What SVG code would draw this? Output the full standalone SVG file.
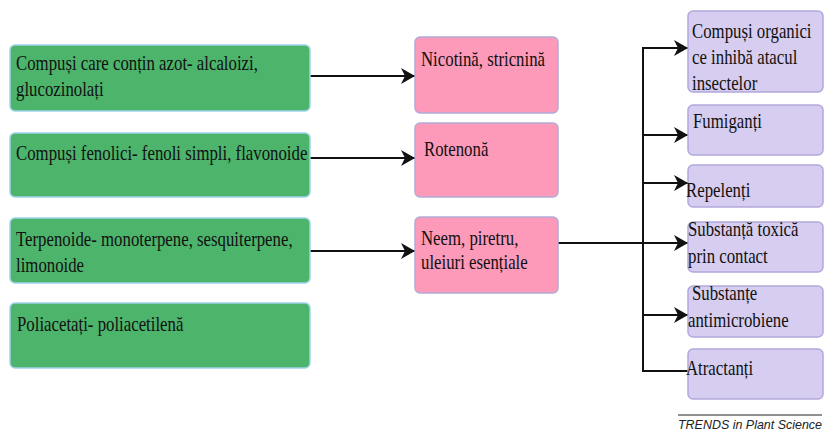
<svg xmlns="http://www.w3.org/2000/svg" width="827" height="437" viewBox="0 0 827 437">
<style>
.green{fill:#4db46c;stroke:#9fd3ea;stroke-width:1.5}
.pink{fill:#fd9ab9;stroke:#b3aad9;stroke-width:1.5}
.purple{fill:#d6cdf0;stroke:#b1a8dc;stroke-width:1.5}
.t{font-family:'Liberation Serif','DejaVu Serif',serif;font-size:20px;fill:#111}
.c{fill:none;stroke:#111;stroke-width:2}
.trends{font-family:'Liberation Sans',Arial,sans-serif;font-style:italic;font-size:13px;fill:#222}
</style>
<defs>
<marker id="arr" viewBox="0 0 14 16" markerWidth="14" markerHeight="16" refX="14" refY="8" orient="auto" markerUnits="userSpaceOnUse">
<path d="M0,0 L14,8 L0,16 L4,8 z" fill="#111"/>
</marker>
</defs>
<rect width="827" height="437" fill="#fff"/>

<g id="connectors">
<line class="c" x1="310" y1="76" x2="415" y2="76" marker-end="url(#arr)"/>
<line class="c" x1="309" y1="158" x2="415" y2="158" marker-end="url(#arr)"/>
<line class="c" x1="310" y1="251" x2="415" y2="251" marker-end="url(#arr)"/>
<line class="c" x1="558" y1="243" x2="688" y2="243" marker-end="url(#arr)"/>
<line class="c" x1="643" y1="47" x2="643" y2="372"/>
<line class="c" x1="642" y1="48" x2="688" y2="48" marker-end="url(#arr)"/>
<line class="c" x1="642" y1="135" x2="688" y2="135" marker-end="url(#arr)"/>
<line class="c" x1="642" y1="183" x2="688" y2="183" marker-end="url(#arr)"/>
<line class="c" x1="642" y1="315" x2="688" y2="315" marker-end="url(#arr)"/>
<line class="c" x1="642" y1="371" x2="688" y2="371"/>
</g>

<g id="g1">
<rect class="green" x="10" y="45" width="300" height="66" rx="5"/>
<g transform="translate(16,0) scale(0.84,1)"><text class="t" x="0" y="70">Compuși care conțin azot- alcaloizi,</text><text class="t" x="0" y="96">glucozinolați</text></g>
</g>
<g id="g2">
<rect class="green" x="10" y="133" width="300" height="64" rx="5"/>
<g transform="translate(16,0) scale(0.84,1)"><text class="t" x="0" y="160">Compuși fenolici- fenoli simpli, flavonoide</text></g>
</g>
<g id="g3">
<rect class="green" x="10" y="218" width="300" height="65" rx="5"/>
<g transform="translate(16,0) scale(0.84,1)"><text class="t" x="0" y="246">Terpenoide- monoterpene, sesquiterpene,</text><text class="t" x="0" y="272">limonoide</text></g>
</g>
<g id="g4">
<rect class="green" x="10" y="303" width="300" height="65" rx="5"/>
<g transform="translate(17,0) scale(0.84,1)"><text class="t" x="0" y="331">Poliacetați- poliacetilenă</text></g>
</g>

<g id="p1">
<rect class="pink" x="415" y="37" width="143" height="76" rx="5"/>
<g transform="translate(421,0) scale(0.84,1)"><text class="t" x="0" y="66">Nicotină, stricnină</text></g>
</g>
<g id="p2">
<rect class="pink" x="415" y="123" width="143" height="74" rx="5"/>
<g transform="translate(424,0) scale(0.84,1)"><text class="t" x="0" y="156">Rotenonă</text></g>
</g>
<g id="p3">
<rect class="pink" x="415" y="217" width="143" height="76" rx="5"/>
<g transform="translate(421,0) scale(0.84,1)"><text class="t" x="0" y="245">Neem, piretru,</text><text class="t" x="0" y="269">uleiuri esențiale</text></g>
</g>

<g id="q1">
<rect class="purple" x="688" y="11" width="135" height="81" rx="5"/>
<g transform="translate(692,0) scale(0.84,1)"><text class="t" x="0" y="38">Compuși organici</text><text class="t" x="0" y="64">ce inhibă atacul</text><text class="t" x="0" y="90">insectelor</text></g>
</g>
<g id="q2">
<rect class="purple" x="688" y="105" width="135" height="50" rx="5"/>
<g transform="translate(693,0) scale(0.84,1)"><text class="t" x="0" y="128">Fumiganți</text></g>
</g>
<g id="q3">
<rect class="purple" x="688" y="165" width="135" height="42" rx="5"/>
<g transform="translate(686,0) scale(0.84,1)"><text class="t" x="0" y="197">Repelenți</text></g>
</g>
<g id="q4">
<rect class="purple" x="688" y="222" width="135" height="50" rx="5"/>
<g transform="translate(688,0) scale(0.84,1)"><text class="t" x="0" y="236">Substanță toxică</text><text class="t" x="0" y="263">prin contact</text></g>
</g>
<g id="q5">
<rect class="purple" x="688" y="286" width="135" height="51" rx="5"/>
<g transform="translate(692,0) scale(0.84,1)"><text class="t" x="0" y="300">Substanțe</text></g>
<g transform="translate(688,0) scale(0.84,1)"><text class="t" x="0" y="327">antimicrobiene</text></g>
</g>
<g id="q6">
<rect class="purple" x="688" y="349" width="135" height="50" rx="5"/>
<g transform="translate(686,0) scale(0.84,1)"><text class="t" x="0" y="375">Atractanți</text></g>
</g>

<g id="credit">
<line x1="678" y1="415" x2="822" y2="415" stroke="#222" stroke-width="1"/>
<text class="trends" x="678" y="429" textLength="144" lengthAdjust="spacingAndGlyphs">TRENDS in Plant Science</text>
</g>
</svg>
